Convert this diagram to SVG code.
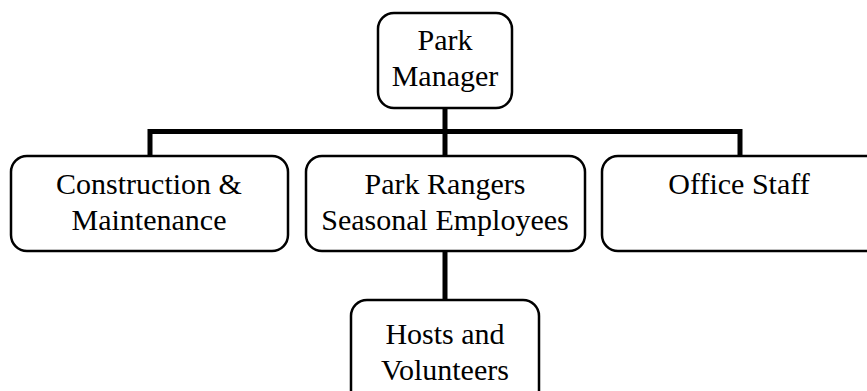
<svg xmlns="http://www.w3.org/2000/svg" width="867" height="391" viewBox="0 0 867 391">
<style>
.box{fill:#fff;stroke:#000;stroke-width:2.5}
.t{font-family:'Liberation Serif',serif;font-size:30px;fill:#000;text-anchor:middle}
.c{fill:none;stroke:#000;stroke-width:5}
</style>
<rect width="867" height="391" fill="#fff"/>
<g id="connectors">
<line class="c" x1="445" y1="107" x2="445" y2="157"/>
<polyline class="c" points="150,157 150,131.5 740,131.5 740,157"/>
<line class="c" x1="445" y1="250" x2="445" y2="301"/>
</g>
<g id="manager">
<rect class="box" x="378" y="13" width="134" height="95" rx="16"/>
<text class="t" x="445" y="50">Park</text>
<text class="t" x="445" y="86">Manager</text>
</g>
<g id="construction">
<rect class="box" x="11" y="156" width="277" height="95" rx="16"/>
<text class="t" x="149" y="194">Construction &amp;</text>
<text class="t" x="149" y="230">Maintenance</text>
</g>
<g id="rangers">
<rect class="box" x="306" y="156" width="279" height="95" rx="16"/>
<text class="t" x="445" y="194">Park Rangers</text>
<text class="t" x="445" y="230">Seasonal Employees</text>
</g>
<g id="office">
<rect class="box" x="602" y="156" width="280" height="95" rx="16"/>
<text class="t" x="739" y="194">Office Staff</text>
</g>
<g id="hosts">
<rect class="box" x="351" y="300" width="188" height="120" rx="16"/>
<text class="t" x="445" y="344">Hosts and</text>
<text class="t" x="445" y="380">Volunteers</text>
</g>
</svg>
